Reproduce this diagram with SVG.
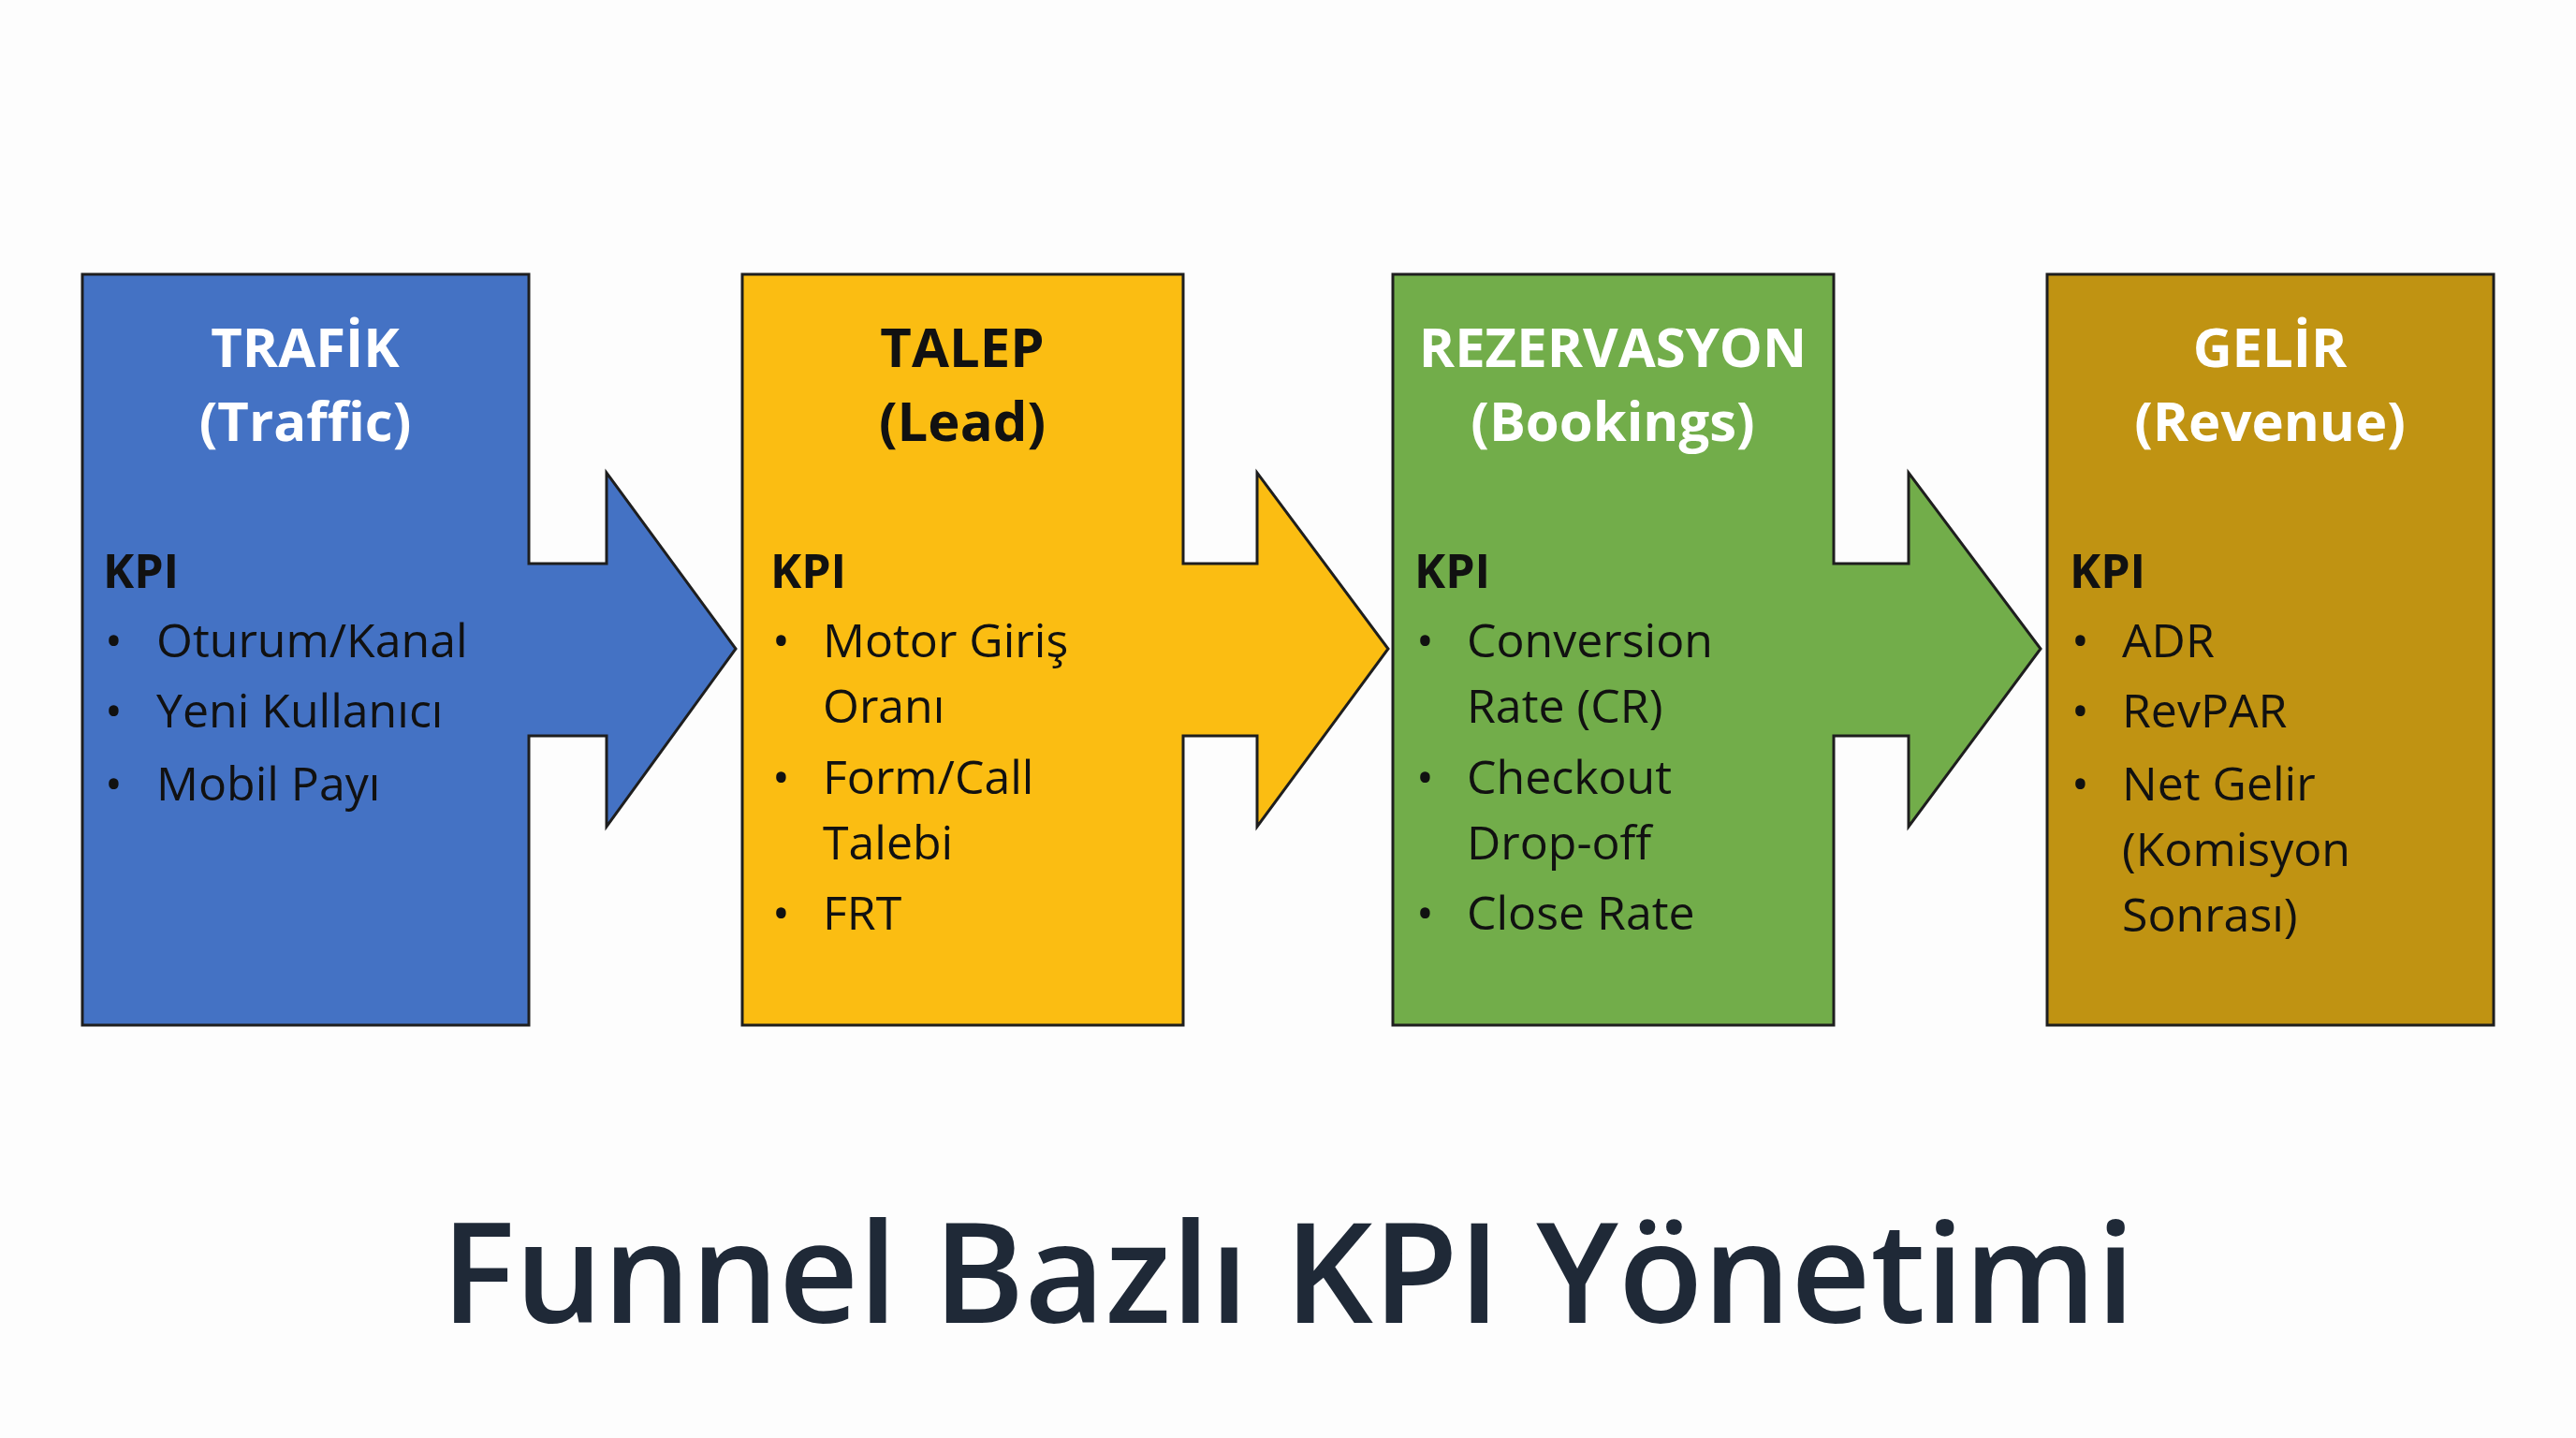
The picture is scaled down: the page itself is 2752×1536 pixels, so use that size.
<svg xmlns="http://www.w3.org/2000/svg" width="2752" height="1536" viewBox="0 0 2752 1536">
<style>
.s{stroke:#1e1e1e;stroke-width:3;stroke-linejoin:miter}
.h{font-family:"Open Sans","Liberation Sans",sans-serif;font-weight:700;font-size:58px;text-anchor:middle}
.k{font-family:"Open Sans","Liberation Sans",sans-serif;font-weight:700;font-size:50px;fill:#111}
.t{font-family:"Open Sans","Liberation Sans",sans-serif;font-size:50px;fill:#111}
.ttl{font-family:"Open Sans","Liberation Sans",sans-serif;font-weight:600;font-size:148px;fill:#1f2937;text-anchor:middle}
</style>
<rect width="2752" height="1536" fill="#fdfdfd"/>
<g id="trafik">
<path class="s" fill="#4472c4" d="M88,293 H565 V602 H648 V505 L786,693 L648,883 V786 H565 V1095 H88 Z"/>
<text class="h" fill="#fff" x="326" y="392">TRAFİK</text>
<text class="h" fill="#fff" x="326" y="471">(Traffic)</text>
<text class="k" x="110" y="628">KPI</text>
<g class="t"><text x="112" y="702">•</text><text x="167" y="702">Oturum/Kanal</text>
<text x="112" y="777">•</text><text x="167" y="777">Yeni Kullanıcı</text>
<text x="112" y="855">•</text><text x="167" y="855">Mobil Payı</text></g>
</g>
<g id="talep">
<path class="s" fill="#fbbd12" d="M793,293 H1264 V602 H1343 V505 L1483,693 L1343,883 V786 H1264 V1095 H793 Z"/>
<text class="h" fill="#111" x="1028" y="392">TALEP</text>
<text class="h" fill="#111" x="1028" y="471">(Lead)</text>
<text class="k" x="823" y="628">KPI</text>
<g class="t"><text x="825" y="702">•</text><text x="879" y="702">Motor Giriş</text>
<text x="879" y="772">Oranı</text>
<text x="825" y="848">•</text><text x="879" y="848">Form/Call</text>
<text x="879" y="918">Talebi</text>
<text x="825" y="993">•</text><text x="879" y="993">FRT</text></g>
</g>
<g id="rezervasyon">
<path class="s" fill="#72ad4a" d="M1488,293 H1959 V602 H2039 V505 L2180,693 L2039,883 V786 H1959 V1095 H1488 Z"/>
<text class="h" fill="#fff" x="1723" y="392">REZERVASYON</text>
<text class="h" fill="#fff" x="1723" y="471">(Bookings)</text>
<text class="k" x="1511" y="628">KPI</text>
<g class="t"><text x="1513" y="702">•</text><text x="1567" y="702">Conversion</text>
<text x="1567" y="772">Rate (CR)</text>
<text x="1513" y="848">•</text><text x="1567" y="848">Checkout</text>
<text x="1567" y="918">Drop-off</text>
<text x="1513" y="993">•</text><text x="1567" y="993">Close Rate</text></g>
</g>
<g id="gelir">
<rect class="s" fill="#c09312" x="2187" y="293" width="477" height="802"/>
<text class="h" fill="#fff" x="2425" y="392">GELİR</text>
<text class="h" fill="#fff" x="2425" y="471">(Revenue)</text>
<text class="k" x="2211" y="628">KPI</text>
<g class="t"><text x="2213" y="702">•</text><text x="2267" y="702">ADR</text>
<text x="2213" y="777">•</text><text x="2267" y="777">RevPAR</text>
<text x="2213" y="855">•</text><text x="2267" y="855">Net Gelir</text>
<text x="2267" y="925">(Komisyon</text>
<text x="2267" y="995">Sonrası)</text></g>
</g>
<g id="connectors"/>
<text class="ttl" x="1376" y="1413">Funnel Bazlı KPI Yönetimi</text>
</svg>
